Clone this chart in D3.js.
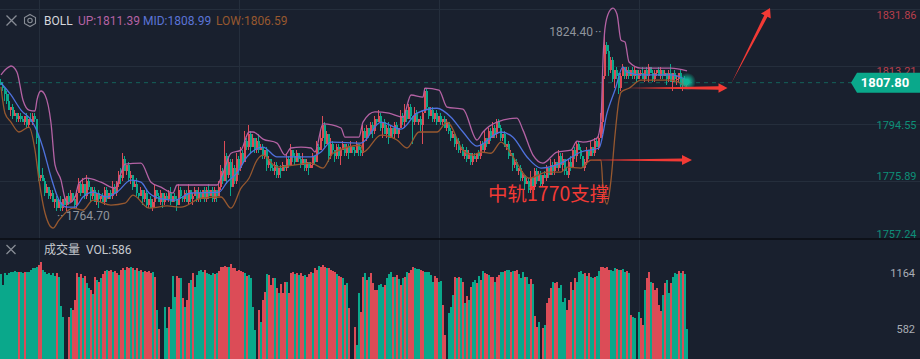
<!DOCTYPE html>
<html>
<head>
<meta charset="utf-8">
<script src="https://cdn.jsdelivr.net/npm/d3@7"></script>
<style>
  html, body { margin: 0; padding: 0; background: #19202e; }
  svg { display: block; font-family: Roboto, "Noto Sans CJK SC", sans-serif; }
</style>
</head>
<body>
<div class="canvas"></div>
<script>
// Values, one candle per 2px column
const priceTicks = [1831.86, 1813.21, 1794.55, 1775.89, 1757.24];
const volumeTicks = [1164, 582];
const gridCandles = [20, 120, 220, 320];
const lastPrice = 1807.80;

const closes = [
  1807,1806,1804,1802,1799,1800,1797,1798,1796,1797,
  1796,1795,1797,1794,1796,1795,1797,1796,1790,1777,
  1778,1776,1772,1774,1771,1772,1769,1770,1767,1769,
  1767,1770,1768,1771,1769,1772,1770,1768,1772,1775,
  1772,1775,1771,1776,1774,1771,1773,1769,1772,1770,
  1771,1769,1773,1770,1772,1771,1774,1772,1775,1778,
  1777,1783,1779,1781,1777,1778,1774,1775,1772,1771,
  1773,1770,1772,1768,1770,1767,1769,1773,1771,1769,
  1772,1769,1771,1770,1772,1769,1771,1770,1768,1773,
  1771,1770,1772,1769,1773,1770,1771,1773,1770,1772,
  1770,1773,1770,1773,1771,1773,1770,1773,1771,1774,
  1779,1776,1784,1778,1782,1774,1780,1776,1783,1780,
  1785,1782,1789,1787,1791,1787,1790,1786,1789,1786,
  1787,1784,1786,1781,1783,1780,1779,1781,1778,1780,
  1779,1781,1780,1783,1781,1786,1784,1782,1785,1783,
  1781,1783,1780,1782,1780,1781,1784,1782,1787,1786,
  1790,1794,1788,1791,1784,1788,1786,1784,1787,1784,
  1786,1788,1785,1787,1785,1787,1786,1785,1788,1786,
  1785,1792,1790,1793,1791,1794,1792,1796,1795,1797,
  1793,1795,1791,1793,1790,1793,1791,1794,1791,1793,
  1797,1795,1799,1796,1800,1797,1795,1798,1795,1796,
  1794,1798,1805,1800,1797,1799,1796,1798,1795,1797,
  1795,1796,1793,1795,1792,1790,1791,1788,1789,1786,
  1787,1784,1786,1783,1785,1782,1784,1783,1785,1784,
  1788,1786,1790,1788,1792,1790,1793,1791,1795,1793,
  1790,1791,1787,1788,1784,1785,1781,1782,1779,1780,
  1777,1778,1775,1776,1773,1777,1774,1779,1776,1778,
  1775,1778,1777,1780,1778,1781,1779,1782,1780,1784,
  1781,1783,1779,1778,1782,1780,1786,1784,1788,1786,
  1784,1780,1782,1786,1784,1787,1785,1789,1787,1790,
  1795,1810,1820,1818,1812,1815,1809,1812,1810,1806,
  1810,1813,1810,1812,1810,1812,1810,1812,1809,1811,
  1811,1809,1812,1810,1813,1811,1809,1811,1812,1810,
  1812,1810,1811,1809,1811,1808,1811,1809,1809,1811,
  1807,1809,1807,1807.8
];

// how far the wick reaches above / below the body, in dollars
const wickUp = [
  1,1,0,1,2,0,1,1,0,1, 1,1,0,1,0,2,1,1,0,1,
  0,2,1,1,0,1,1,0,1,1, 2,0,1,0,1,1,0,1,1,2,
  1,2,0,2,1,0,1,1,0,1, 0,1,1,1,0,1,2,1,1,1,
  2,2,1,0,1,1,0,1,2,0, 1,0,1,1,0,1,1,2,0,1,
  1,0,1,1,1,2,0,1,1,2, 1,0,1,1,2,0,1,1,0,2,
  1,0,1,1,2,0,1,1,0,2, 2,1,5,1,2,1,3,1,2,1,
  2,1,3,1,3,1,1,0,1,2, 1,1,0,1,1,0,1,1,1,0,
  1,1,0,2,1,2,0,1,1,0, 1,2,0,1,0,1,1,0,2,1,
  2,3,1,1,0,2,1,0,1,1, 1,1,0,1,1,2,0,1,1,0,
  1,2,1,1,0,1,1,1,0,2, 1,0,1,1,2,1,0,1,1,0,
  2,1,2,0,1,1,0,2,1,0, 1,1,1,1,0,1,1,0,1,0,
  1,0,1,1,0,1,1,0,1,1, 0,1,0,1,1,0,1,1,0,1,
  1,1,2,0,1,1,2,1,1,1, 1,0,1,0,1,1,0,1,1,0,
  1,1,0,1,1,2,0,1,1,1, 1,0,1,1,0,2,1,1,0,2,
  1,2,0,1,1,2,0,1,1,1, 1,0,1,1,0,2,0,1,1,1,
  3,2,4,1,2,1,1,0,1,1, 1,1,0,1,1,0,1,1,0,1,
  1,2,0,1,1,0,1,1,0,1, 1,0,1,0,1,3,0,1,1,0,
  1,0,1,0
];
const wickDown = [
  0,1,2,1,0,2,1,0,1,1, 1,0,1,1,1,0,1,1,2,1,
  1,0,1,0,1,1,0,2,1,0, 1,1,0,2,1,0,1,1,1,0,
  1,0,1,1,1,2,1,0,1,3, 1,0,1,1,0,1,1,0,1,1,
  2,1,0,1,1,2,1,0,1,1, 0,2,1,1,1,0,1,2,1,0,
  1,2,1,0,1,1,0,1,2,0, 1,1,1,0,1,1,2,0,1,1,
  1,0,1,1,1,0,1,1,2,0, 1,1,0,3,1,3,0,1,1,2,
  1,1,0,1,1,2,0,1,1,1, 0,1,1,2,1,1,0,1,1,1,
  2,0,1,1,1,0,2,1,0,1, 1,0,1,1,2,0,1,1,0,1,
  0,1,1,0,2,1,1,2,1,1, 3,0,1,1,2,0,1,1,0,2,
  1,1,0,1,1,0,2,1,1,0, 1,3,0,1,2,0,1,1,0,1,
  0,1,2,1,0,1,7,1,0,1, 2,6,0,1,1,0,1,1,1,0,
  1,1,0,1,1,1,0,1,2,1, 1,0,1,1,0,1,1,0,1,1,
  1,0,1,1,0,1,0,1,1,0, 1,1,0,1,1,0,2,1,0,1,
  1,1,2,0,1,1,0,1,1,0, 1,1,0,1,1,0,1,1,0,1,
  1,2,1,0,1,1,0,1,2,0, 1,0,1,1,1,0,1,1,0,1,
  0,4,1,1,2,1,1,3,1,2, 1,0,1,1,1,0,1,1,1,0,
  1,0,1,1,2,0,1,1,1,0, 1,1,0,2,1,0,3,1,2,1,
  1,2,0,1
];

// Bollinger bands as [candle, price] pairs
const upperBand = [
  [0,1810.3],[2,1811.9],[4,1812.9],[5,1813.2],[8,1811.2],[11,1802.1],[14,1798.9],[17,1798.6],[18,1802.2],[20,1805.1],
  [22,1803.8],[25,1794.7],[27,1781.1],[30,1776.2],[32,1770.3],[34,1768.7],[37,1770.7],[39,1775.2],[43,1776.8],[50,1775.5],
  [57,1773.6],[60,1778.5],[62,1781.4],[70,1781.7],[75,1775.5],[80,1773.9],[86,1772],[88,1774.6],[108,1774.6],[111,1778.5],
  [115,1784.9],[120,1785.9],[124,1791.8],[126,1791.8],[131,1789.5],[138,1788.2],[142,1784.3],[145,1786.6],[150,1786.9],[155,1786.6],
  [157,1785.3],[161,1794.4],[170,1793.1],[172,1790.1],[179,1790.1],[181,1795],[187,1798.3],[194,1797.9],[201,1796.6],[205,1803.8],
  [211,1803.1],[212,1806],[219,1805.4],[223,1799.9],[231,1799.2],[238,1789.2],[241,1791.8],[248,1795],[258,1796.3],[261,1792.4],
  [266,1784.3],[271,1781.7],[278,1785.3],[285,1785.9],[288,1788.8],[291,1788.5],[298,1789.8],[300,1795.7],[301,1815.1],[302,1825.5],
  [304,1830.7],[306,1832],[308,1830],[310,1821.6],[312,1821],[314,1814.5],[320,1812.5],[335,1812.5],[343,1811.6]
];
const midBand = [
  [0,1807.7],[5,1803.8],[10,1798.9],[15,1795.7],[18,1792.1],[21,1786.6],[25,1777.2],[29,1769.7],[33,1767.4],[37,1767.4],
  [41,1770.7],[46,1772.3],[53,1770.7],[58,1772.3],[65,1776.2],[70,1775.5],[74,1772],[81,1770],[87,1769.7],[95,1772],
  [109,1772.3],[113,1775.5],[118,1778.5],[123,1783.7],[131,1786.9],[138,1783.7],[145,1783.7],[155,1783.7],[160,1785.3],[165,1788.5],
  [180,1788.2],[190,1795],[200,1792.7],[208,1797.9],[218,1799.5],[225,1796.6],[231,1791.8],[238,1787.2],[250,1791.8],[256,1790.1],
  [263,1783.7],[270,1780.1],[280,1781.7],[290,1785.3],[299,1786.6],[303,1797.9],[307,1805.4],[311,1812.9],[313,1811.2],[320,1810.3],
  [335,1810.3],[343,1808.6]
];
const lowerBand = [
  [0,1806.4],[2,1797.9],[5,1795],[9,1791.8],[14,1793.4],[17,1785.9],[19,1776.2],[22,1765.5],[26,1760.6],[29,1763.2],
  [36,1767.1],[41,1766.4],[46,1769.7],[55,1768.1],[62,1768.7],[66,1771.3],[74,1767.1],[83,1767.8],[90,1767.4],[100,1770.3],
  [110,1770.7],[115,1767.1],[120,1773.6],[124,1776.8],[128,1782.7],[131,1784.3],[138,1780.4],[150,1781.4],[155,1781.7],[161,1780.1],
  [166,1784.9],[180,1787.5],[181,1785.3],[190,1790.8],[198,1789.2],[203,1786.6],[209,1791.8],[218,1791.8],[223,1795],[231,1785.9],
  [236,1784.3],[240,1785.3],[245,1784.9],[250,1788.5],[256,1783.7],[264,1776.8],[273,1778.8],[280,1778.8],[283,1780.4],[290,1780.1],
  [295,1782.7],[300,1782.7],[301,1773.9],[303,1768.4],[305,1776.2],[307,1790.8],[309,1802.2],[310,1804.7],[314,1806],[320,1808.6],
  [335,1808.6],[343,1806.4]
];

const volumes = [
  1150,1039,1161,1143,1161,1171,1178,1185,1178,1171,
  1178,1161,1178,1171,1178,1195,1213,1213,1230,1247,
  1275,1195,1171,1150,1161,1143,1161,1136,1161,1126,
  822,710,200,200,710,797,779,883,1161,1126,
  1150,1109,1136,1057,1005,987,943,1126,1091,1074,
  1115,1150,1185,1195,1185,1195,1178,1185,1161,1143,
  1195,1213,1195,1230,1213,1223,1213,1195,1213,1185,
  1195,1178,1185,1171,1185,1161,1171,1126,779,582,
  200,200,814,590,814,790,1136,918,1136,1115,
  1109,901,814,883,1057,1091,1161,1022,1143,1185,
  1195,1178,1195,1161,1150,1143,1161,1150,1161,1185,
  1230,1223,1240,1230,1223,1254,1213,1213,1185,1195,
  1185,1178,1161,1136,1143,1109,814,571,200,779,
  650,883,970,1150,1143,1039,1109,1115,1005,953,
  1046,953,1074,1067,953,1161,1171,1150,1161,1143,
  1161,1136,1143,1126,1150,1171,1161,1213,1195,1240,
  1230,1247,1230,1220,1213,1195,1185,1171,1150,1136,
  1126,1109,1039,1057,797,200,200,606,416,953,
  762,1126,1161,1091,1126,1161,1057,987,987,1039,
  1046,1022,1039,1109,1150,1178,1126,1126,1143,1102,
  1039,1109,1126,1171,1161,1195,1223,1213,1206,1206,
  1195,1185,1171,1171,1171,1143,1074,1136,1109,1074,
  1081,831,520,200,745,814,935,1126,1109,1126,
  1109,1074,849,925,883,1022,1074,1091,1057,1136,
  1091,1185,1161,1150,1143,1126,1126,1074,1126,1143,
  1178,1178,1185,1195,1195,1178,1185,1185,1195,1150,
  1109,1171,1126,1126,1046,1098,1046,717,606,650,
  200,589,623,849,901,1005,1074,1057,1067,1005,
  1039,866,901,779,883,1074,987,1109,1074,1171,
  1185,1150,1161,1136,1161,1126,1115,1126,1136,1185,
  1223,1223,1213,1223,1195,1195,1185,1213,1206,1195,
  1195,1206,1171,1185,1161,727,710,693,200,762,
  693,623,987,1109,1171,1074,1057,987,1005,831,
  769,935,1057,1091,953,1057,1126,1161,1150,1185,
  1161,1185,1150,586
];
// r = red column, g = green column, as seen in the lower panel
const volumeColors = [
  "gggggggggr","ggrggggggr","rgggggggrg","ggrrrgrrrg","rgrggrgrgr","grrgrrgrrg","rrgrrgrgrg","rgrrrrgrgr","ggggrgggrr",
  "grgrrgrggg","ggrggggrgr","rrrrgrrrrr","rrgrgggggr","grrgrrrgrg","rrrgrrrgrg","rrgrrrgrrg","rrrgrrrrgr","rgrgrrrrgg",
  "rrgrgrrrrg","ggrgggrgrg","rgrgrrrggg","rrgggggrrg","grrrgggrgr","grgrgrggrg","rgrrgrrgrr","ggrggrgrrg","ggrggrgrrg",
  "grgrrrgrrg","gggrrrgrgg","ggrgrggrgg","rrrrrgggrg","rggrgrggrg","rrgrrgrrrr","rgrggrgggr","grgg"
].join("");

const upColor = "#dc4c57";
const downColor = "#0aa88b";
const bgColor = "#19202e";
const gridColor = "#252e3c";
const arrowColor = "#f23a35";

const width = 920, height = 359;

const svg = d3.select(".canvas").append("svg")
  .attr("width", width)
  .attr("height", height);

svg.append("rect").attr("width", width).attr("height", height).attr("fill", bgColor);

// Scales
const x = d3.scaleBand().domain(d3.range(closes.length)).range([0, 688]).padding(0);
const y = d3.scaleLinear().domain([priceTicks[4], priceTicks[0]]).range([238.5, 8.5]);
const yVol = d3.scaleLinear().domain([0, volumeTicks[0]]).range([385, 273]);

// Gridlines
const grid = svg.append("g").attr("stroke", gridColor).attr("stroke-width", 1);
grid.selectAll("line.h").data(priceTicks.slice(0, 4)).join("line")
  .attr("x1", 0).attr("x2", width)
  .attr("y1", d => Math.round(y(d)) + 0.5).attr("y2", d => Math.round(y(d)) + 0.5);
grid.selectAll("line.v").data(gridCandles).join("line")
  .attr("x1", d => x(d) - 0.5).attr("x2", d => x(d) - 0.5)
  .attr("y1", 0).attr("y2", height);

// Pane divider
svg.append("line").attr("x1", 0).attr("x2", width).attr("y1", 239).attr("y2", 239)
  .attr("stroke", "#0a0d13").attr("stroke-width", 1.5);

// Last price dashed line
svg.append("line").attr("x1", 0).attr("x2", 852)
  .attr("y1", y(lastPrice)).attr("y2", y(lastPrice))
  .attr("stroke", "#14615a").attr("stroke-dasharray", "4,4");

// Volume bars
svg.append("g").attr("shape-rendering", "crispEdges").selectAll("rect").data(volumes).join("rect")
  .attr("x", (d, i) => x(i))
  .attr("width", x.bandwidth())
  .attr("y", d => yVol(d))
  .attr("height", d => 385 - yVol(d))
  .attr("fill", (d, i) => volumeColors[i] === "r" ? upColor : downColor);

// Candles, each one opens on the previous close
const opens = closes.map((c, i) => i === 0 ? 1808 : closes[i - 1]);
const isUp = i => closes[i] >= opens[i];
const candles = svg.append("g").attr("shape-rendering", "crispEdges");
candles.selectAll("line").data(closes).join("line")
  .attr("x1", (d, i) => x(i) + 0.5).attr("x2", (d, i) => x(i) + 0.5)
  .attr("y1", (d, i) => y(Math.max(d, opens[i]) + wickUp[i]))
  .attr("y2", (d, i) => y(Math.min(d, opens[i]) - wickDown[i]))
  .attr("stroke", (d, i) => isUp(i) ? upColor : downColor);
candles.selectAll("rect").data(closes).join("rect")
  .attr("x", (d, i) => x(i))
  .attr("width", x.bandwidth())
  .attr("y", (d, i) => y(Math.max(d, opens[i])))
  .attr("height", (d, i) => Math.max(1, Math.abs(y(d) - y(opens[i]))))
  .attr("fill", (d, i) => isUp(i) ? upColor : downColor);

// Bollinger lines
const bandLine = d3.line()
  .x(d => x(d[0]) + 1)
  .y(d => y(d[1]))
  .curve(d3.curveMonotoneX);
[[upperBand, "#b462a4"], [lowerBand, "#97582f"], [midBand, "#4f72de"]].forEach(b => {
  svg.append("path").attr("d", bandLine(b[0]))
    .attr("fill", "none").attr("stroke", b[1]).attr("stroke-width", 1.3);
});

// Glow on the last candle
const glow = svg.append("defs").append("radialGradient").attr("id", "glow");
glow.append("stop").attr("offset", "25%").attr("stop-color", "#0fb596").attr("stop-opacity", 1);
glow.append("stop").attr("offset", "100%").attr("stop-color", "#0fb596").attr("stop-opacity", 0);
svg.append("circle").attr("cx", x(343) + 1).attr("cy", y(lastPrice) - 1).attr("r", 9).attr("fill", "url(#glow)");

// Axes
const labelShift = [6, 5, 1.5, -5, -4.5];
const axisPrice = svg.append("g")
  .attr("transform", "translate(916.5,0)")
  .call(d3.axisRight(y).tickValues(priceTicks).tickSize(0).tickFormat(d3.format(".2f")));
axisPrice.select(".domain").remove();
axisPrice.selectAll("text")
  .attr("x", 0)
  .attr("dy", (d, i) => labelShift[i] + 3.8)
  .attr("text-anchor", "end")
  .attr("font-size", 11)
  .attr("font-family", "Roboto")
  .attr("fill", d => d > lastPrice ? "#b83f4c" : "#0d8f78");

const axisVol = svg.append("g")
  .attr("transform", "translate(915,0)")
  .call(d3.axisRight(yVol).tickValues(volumeTicks).tickSize(0));
axisVol.select(".domain").remove();
axisVol.selectAll("text")
  .attr("x", 0).attr("dy", 3.8)
  .attr("text-anchor", "end")
  .attr("font-size", 11)
  .attr("font-family", "Roboto")
  .attr("fill", "#a9aeb6")
  .text(d => d);

// Price tag
const tagY = y(lastPrice);
svg.append("path")
  .attr("d", `M851,${tagY} L857,${tagY - 10} H920 V${tagY + 10} H857 Z`)
  .attr("fill", downColor);
svg.append("text").attr("x", 885).attr("y", tagY + 4.7).attr("text-anchor", "middle")
  .attr("font-size", 13).attr("font-weight", 700).attr("fill", "#fff").text(lastPrice.toFixed(2));

// Header text
const header = [
  ["BOLL", 44, "#d5d7db"], ["UP:1811.39", 78, "#b462a4"],
  ["MID:1808.99", 143, "#5b74d6"], ["LOW:1806.59", 216, "#97582f"]
];
svg.append("g").selectAll("text").data(header).join("text")
  .attr("x", d => d[1]).attr("y", 25)
  .attr("font-size", 12).attr("fill", d => d[2]).text(d => d[0]);
svg.append("text").attr("x", 44).attr("y", 254).attr("font-size", 12).attr("fill", "#c6c9ce").text("成交量");
svg.append("text").attr("x", 86).attr("y", 254).attr("font-size", 12).attr("fill", "#c6c9ce").text("VOL:586");

// Icons
const closeIcon = (cx, cy, r) => {
  svg.append("path").attr("d", `M${cx - r},${cy - r} L${cx + r},${cy + r} M${cx + r},${cy - r} L${cx - r},${cy + r}`)
    .attr("stroke", "#878c95").attr("stroke-width", 1.3).attr("fill", "none");
};
closeIcon(11.5, 20.5, 5);
closeIcon(11, 249.5, 4.5);
svg.append("path").attr("d", "M30,14.5 L35.5,17.5 V23.5 L30,26.5 L24.5,23.5 V17.5 Z")
  .attr("fill", "none").attr("stroke", "#878c95").attr("stroke-width", 1.1);
svg.append("circle").attr("cx", 30).attr("cy", 20.5).attr("r", 2.2)
  .attr("fill", "none").attr("stroke", "#878c95").attr("stroke-width", 1.1);

// High and low markers
svg.append("text").attr("x", 593).attr("y", 35.5).attr("text-anchor", "end")
  .attr("font-size", 12).attr("fill", "#8f949c").text("1824.40");
svg.append("text").attr("x", 595).attr("y", 35.5).attr("font-size", 12).attr("fill", "#8f949c").text("··");
svg.append("text").attr("x", 66).attr("y", 220).attr("font-size", 12).attr("fill", "#8f949c").text("1764.70");
svg.append("text").attr("x", 57).attr("y", 220).attr("font-size", 12).attr("fill", "#8f949c").text("··");

// Hand drawn arrows: a sliver that widens up to the head
const arrow = (x1, y1, x2, y2, headLen, headHalf, bodyHalf) => {
  const a = Math.atan2(y2 - y1, x2 - x1);
  const pt = (along, side) => [
    x2 + along * Math.cos(a) - side * Math.sin(a),
    y2 + along * Math.sin(a) + side * Math.cos(a)
  ];
  const pts = [[x1, y1], pt(-headLen, bodyHalf), pt(-headLen, headHalf), [x2, y2], pt(-headLen, -headHalf), pt(-headLen, -bodyHalf)];
  svg.append("polygon").attr("points", pts.map(p => p.join(",")).join(" ")).attr("fill", arrowColor);
};
arrow(582, 160, 692, 160, 10, 5, 1.6);
arrow(625, 88, 727.5, 88, 9, 4.8, 1.8);
arrow(731.5, 83, 770, 8, 9, 5.5, 1.8);

svg.append("text").attr("x", 488).attr("y", 201)
  .attr("font-family", "'Noto Sans CJK SC'")
  .attr("font-size", 19.5)
  .attr("fill", arrowColor)
  .text("中轨1770支撑");
</script>
</body>
</html>
